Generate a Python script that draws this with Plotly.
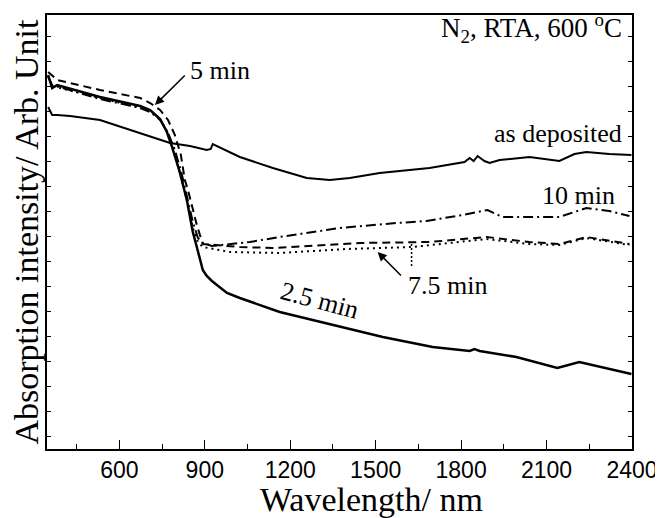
import plotly.graph_objects as go

# Wavelength (nm) and absorption (arb. unit)
wl_asdep = [350, 364, 382, 427, 532, 673, 778, 848, 907, 921, 928, 1023, 1139, 1258, 1339, 1409,
            1514, 1689, 1812, 1830, 1844, 1858, 1882, 1900, 1935, 2040, 2145, 2198, 2240, 2320, 2398]
ab_asdep = [13.68, 13.36, 13.36, 13.32, 13.16, 12.64, 12.24, 12.12, 11.96, 12.0, 12.2, 11.68, 11.24,
            10.84, 10.76, 10.84, 11.04, 11.24, 11.48, 11.64, 11.52, 11.72, 11.52, 11.44, 11.56,
            11.68, 11.52, 11.8, 11.88, 11.8, 11.76]

wl_25 = [350, 364, 382, 532, 673, 708, 743, 767, 784, 812, 837, 858, 872, 883, 893, 907, 925,
         978, 1023, 1163, 1409, 1525, 1700, 1830, 1847, 1865, 1994, 2138, 2215, 2296, 2398]
ab_25 = [14.96, 14.44, 14.56, 14.08, 13.72, 13.56, 13.2, 12.68, 12.12, 11.08, 9.96, 8.68, 8.08,
         7.64, 7.16, 6.92, 6.72, 6.24, 6.04, 5.48, 4.8, 4.48, 4.08, 3.92, 4.0, 3.92, 3.68, 3.24,
         3.48, 3.28, 3.0]

wl_5 = [350, 382, 532, 673, 708, 743, 771, 795, 816, 830, 841, 858, 872, 893, 928, 1023, 1139,
        1444, 1689, 1889, 2040, 2145, 2240, 2391]
ab_5 = [15.08, 14.76, 14.36, 14.04, 13.84, 13.56, 13.16, 12.56, 11.76, 10.76, 10.36, 9.56, 8.96,
        8.2, 8.16, 8.08, 8.04, 8.24, 8.28, 8.48, 8.28, 8.2, 8.48, 8.2]

wl_75 = [350, 364, 532, 673, 708, 743, 767, 784, 812, 837, 858, 876, 893, 988, 1163, 1398, 1630,
         1889, 2040, 2145, 2240, 2391]
ab_75 = [14.92, 14.52, 14.04, 13.68, 13.56, 13.2, 12.72, 12.16, 11.08, 9.96, 8.84, 8.28, 8.08,
         7.88, 7.84, 8.0, 8.08, 8.4, 8.2, 8.16, 8.44, 8.16]

wl_10 = [350, 364, 532, 673, 708, 743, 771, 795, 820, 841, 858, 876, 893, 925, 964, 1058, 1163,
         1374, 1574, 1679, 1805, 1893, 1945, 2145, 2240, 2320, 2391]
ab_10 = [14.88, 14.56, 14.0, 13.64, 13.48, 13.16, 12.64, 11.96, 10.96, 9.96, 9.08, 8.44, 8.24,
         8.12, 8.16, 8.28, 8.48, 8.84, 9.04, 9.12, 9.36, 9.56, 9.28, 9.28, 9.64, 9.52, 9.32]

x_ticks = [600, 900, 1200, 1500, 1800, 2100, 2400]
x_minor = [450, 750, 1050, 1350, 1650, 1950, 2250]

serif = "Liberation Serif"
sans = "Liberation Sans"

fig = go.Figure()
fig.add_trace(go.Scatter(x=wl_asdep, y=ab_asdep, mode="lines", name="as deposited",
                         line=dict(color="black", width=2)))
fig.add_trace(go.Scatter(x=wl_25, y=ab_25, mode="lines", name="2.5 min",
                         line=dict(color="black", width=2.5)))
fig.add_trace(go.Scatter(x=wl_5, y=ab_5, mode="lines", name="5 min",
                         line=dict(color="black", width=2, dash="8px,5px")))
fig.add_trace(go.Scatter(x=wl_75, y=ab_75, mode="lines", name="7.5 min",
                         line=dict(color="black", width=2, dash="2px,4px")))
fig.add_trace(go.Scatter(x=wl_10, y=ab_10, mode="lines", name="10 min",
                         line=dict(color="black", width=2, dash="10px,4px,2px,4px")))

ann_font = dict(family=serif, size=26, color="black")
annotations = [
    dict(x=2373, y=16.84, text="N<sub>2</sub>, RTA, 600 <sup>o</sup>C", showarrow=False,
         xanchor="right", yanchor="middle", font=dict(family=serif, size=27, color="black")),
    dict(x=840, y=15.16, text="5 min", showarrow=False, xanchor="left", yanchor="middle", font=ann_font),
    dict(x=725, y=13.76, ax=835, ay=15.0, axref="x", ayref="y", text="", showarrow=True,
         arrowhead=2, arrowsize=1.2, arrowwidth=1.5, arrowcolor="black"),
    dict(x=2373, y=12.64, text="as deposited", showarrow=False, xanchor="right", yanchor="middle",
         font=ann_font),
    dict(x=2212, y=10.16, text="10 min", showarrow=False, xanchor="center", yanchor="middle",
         font=ann_font),
    dict(x=1752, y=6.56, text="7.5 min", showarrow=False, xanchor="center", yanchor="middle",
         font=ann_font),
    dict(x=1507, y=7.88, ax=1594, ay=6.88, axref="x", ayref="y", text="", showarrow=True,
         arrowhead=2, arrowsize=1.2, arrowwidth=1.5, arrowcolor="black"),
    dict(x=1304, y=5.96, text="2.5 min", showarrow=False, textangle=15, xanchor="center",
         yanchor="middle", font=ann_font),
    dict(x=0.554, y=-0.068, xref="paper", yref="paper", text="Wavelength/ nm", showarrow=False,
         xanchor="center", yanchor="top", font=dict(family=serif, size=34, color="black")),
]
fig.update_layout(annotations=annotations)

fig.add_shape(type="line", x0=1626, x1=1626, y0=8.2, y1=7.28, xref="x", yref="y",
              line=dict(color="black", width=1.5, dash="2px,2px"))

fig.update_xaxes(range=[346, 2400], tickvals=x_ticks, ticks="inside", ticklen=9, tickwidth=1,
                 tickcolor="black", showline=True, linecolor="black", linewidth=1.5, mirror=True,
                 showgrid=False, zeroline=False, automargin=False,
                 tickfont=dict(family=sans, size=23, color="black"),
                 minor=dict(tickvals=x_minor, ticks="inside",
                            ticklen=5, tickcolor="black", showgrid=False))
fig.update_yaxes(range=[0, 17.36], showticklabels=False, ticks="inside", ticklen=4, tickwidth=1,
                 tickcolor="black", tick0=0.5, dtick=1, showline=True, linecolor="black",
                 linewidth=1.5, mirror="ticks", showgrid=False, zeroline=False, automargin=False,
                 title=dict(text="Absorption intensity/ Arb. Unit", standoff=8,
                            font=dict(family=serif, size=34, color="black")))

# page body adds an 8px offset, so the figure is 8px smaller and margins shifted accordingly
fig.update_layout(width=655, height=510, margin=dict(l=39, r=31, t=7, b=69, autoexpand=False),
                  plot_bgcolor="white", paper_bgcolor="white", showlegend=False)

fig.write_html("out.html")
